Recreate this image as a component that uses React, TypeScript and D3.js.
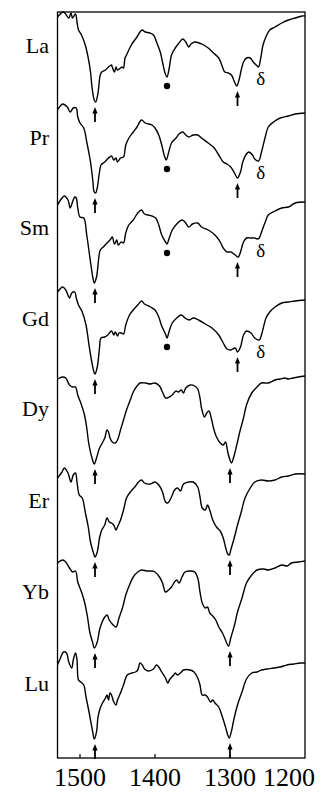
import React, { useEffect } from 'react';
import * as d3 from 'd3';

type Pt = [number, number];

// wavenumber axis (cm-1), reversed
const wavenumberTicks = [1500, 1400, 1300, 1200];
const wavenumberDomain = [1530, 1200];

const elements = ['La', 'Pr', 'Sm', 'Gd', 'Dy', 'Er', 'Yb', 'Lu'];
// vertical stacking offset of each trace (transmittance units)
const offsets = [653, 561, 471, 380, 290, 198, 107, 15];

// [wavenumber, transmittance]
const laSpectrum: Pt[] = [[1530,88],[1522,93],[1515,87],[1512,92],[1510,87],[1506,91],[1504,83],[1502,75],[1498,70],[1493,60],[1489,47],[1486,33],[1484,18],[1481,5],[1479,3],[1476,12],[1473,30],[1471,33],[1466,35],[1462,38],[1458,40],[1457,38],[1454,33],[1452,38],[1450,35],[1446,37],[1444,38],[1442,37],[1440,47],[1438,50],[1433,58],[1429,63],[1424,68],[1420,73],[1417,75],[1413,73],[1407,72],[1402,70],[1398,63],[1393,53],[1390,43],[1387,33],[1384,28],[1381,37],[1378,50],[1373,57],[1368,62],[1363,66],[1359,63],[1355,58],[1352,61],[1347,63],[1341,62],[1335,60],[1329,57],[1322,52],[1315,47],[1311,40],[1307,33],[1302,32],[1298,30],[1294,23],[1291,19],[1288,25],[1285,35],[1282,43],[1278,47],[1273,47],[1269,43],[1265,40],[1262,38],[1259,47],[1256,60],[1251,70],[1247,75],[1240,78],[1231,82],[1222,85],[1213,87],[1204,89],[1200,89]];
const prSpectrum: Pt[] = [[1530,87],[1523,93],[1517,90],[1513,85],[1509,89],[1505,89],[1503,80],[1500,74],[1495,69],[1491,55],[1486,35],[1483,17],[1481,5],[1479,4],[1477,9],[1474,25],[1472,32],[1467,35],[1462,39],[1458,41],[1455,37],[1452,39],[1450,35],[1446,39],[1442,40],[1439,52],[1434,60],[1429,65],[1424,70],[1418,77],[1413,74],[1404,72],[1400,69],[1395,62],[1391,52],[1387,40],[1385,37],[1382,44],[1378,54],[1372,59],[1368,63],[1363,65],[1359,62],[1355,60],[1349,62],[1343,62],[1338,59],[1329,54],[1321,49],[1315,42],[1309,35],[1304,33],[1299,30],[1294,24],[1290,19],[1286,25],[1283,35],[1279,42],[1275,45],[1270,42],[1267,38],[1262,36],[1258,45],[1253,60],[1249,70],[1242,75],[1233,79],[1222,81],[1213,83],[1200,84]];
const smSpectrum: Pt[] = [[1530,82],[1524,89],[1521,91],[1516,87],[1513,79],[1510,85],[1507,90],[1505,89],[1503,79],[1500,70],[1495,69],[1491,52],[1486,25],[1483,10],[1481,4],[1478,10],[1475,29],[1473,37],[1469,40],[1464,44],[1460,47],[1457,50],[1454,43],[1451,47],[1449,42],[1445,45],[1442,44],[1439,54],[1435,62],[1429,67],[1423,74],[1418,77],[1414,73],[1404,71],[1399,69],[1395,62],[1391,52],[1386,45],[1384,43],[1381,49],[1377,57],[1371,63],[1364,67],[1360,65],[1355,60],[1350,63],[1343,64],[1338,60],[1329,57],[1320,52],[1313,45],[1309,39],[1304,35],[1299,35],[1293,32],[1289,30],[1286,35],[1282,45],[1278,49],[1272,49],[1267,49],[1264,48],[1261,49],[1258,55],[1253,65],[1249,72],[1240,76],[1231,79],[1222,80],[1213,84],[1200,85]];
const gdSpectrum: Pt[] = [[1530,86],[1523,91],[1519,88],[1514,80],[1511,85],[1507,86],[1505,80],[1502,73],[1497,66],[1492,53],[1488,33],[1484,15],[1481,5],[1480,4],[1477,11],[1474,30],[1472,40],[1467,41],[1463,43],[1458,47],[1455,43],[1453,46],[1450,42],[1448,45],[1445,45],[1442,44],[1439,53],[1434,63],[1429,68],[1423,73],[1418,77],[1414,74],[1406,71],[1400,68],[1395,61],[1391,52],[1386,44],[1384,40],[1381,47],[1377,55],[1371,60],[1365,63],[1360,60],[1354,58],[1349,60],[1342,58],[1333,54],[1324,50],[1315,43],[1309,35],[1304,29],[1299,28],[1293,30],[1290,26],[1286,31],[1282,43],[1278,47],[1272,45],[1267,40],[1261,38],[1257,46],[1252,60],[1247,66],[1240,71],[1231,75],[1222,76],[1213,77],[1200,78]];
const dySpectrum: Pt[] = [[1530,89],[1523,91],[1519,90],[1514,83],[1510,81],[1506,81],[1503,73],[1498,63],[1494,53],[1491,40],[1488,23],[1484,10],[1481,4],[1478,10],[1474,20],[1471,24],[1467,30],[1464,38],[1462,36],[1460,30],[1457,26],[1453,25],[1450,28],[1446,38],[1442,48],[1438,58],[1433,68],[1429,76],[1424,82],[1420,85],[1413,85],[1406,84],[1400,85],[1394,82],[1390,76],[1386,70],[1381,71],[1377,73],[1372,77],[1369,76],[1365,78],[1362,75],[1359,80],[1353,83],[1347,82],[1343,79],[1340,70],[1338,60],[1334,51],[1331,55],[1328,57],[1325,50],[1322,40],[1318,31],[1313,25],[1309,23],[1306,26],[1303,16],[1300,8],[1298,5],[1295,11],[1291,23],[1287,36],[1282,50],[1278,63],[1271,75],[1264,81],[1258,85],[1249,85],[1240,88],[1233,89],[1227,90],[1222,89],[1216,90],[1209,91],[1200,92]];
const erSpectrum: Pt[] = [[1530,82],[1524,88],[1521,92],[1516,87],[1512,78],[1509,85],[1506,87],[1504,78],[1501,65],[1497,62],[1493,48],[1489,33],[1486,18],[1482,7],[1480,3],[1477,8],[1474,22],[1471,30],[1467,35],[1464,42],[1461,38],[1458,37],[1455,35],[1452,30],[1450,33],[1446,40],[1442,50],[1438,62],[1433,68],[1427,73],[1422,78],[1418,80],[1414,77],[1406,76],[1400,78],[1394,74],[1390,68],[1386,58],[1383,57],[1378,63],[1374,70],[1370,72],[1366,69],[1362,76],[1355,78],[1349,78],[1343,73],[1340,63],[1337,52],[1333,50],[1330,55],[1327,50],[1323,40],[1318,33],[1313,29],[1309,22],[1306,13],[1303,6],[1301,5],[1299,10],[1294,23],[1290,35],[1285,48],[1280,62],[1273,72],[1267,78],[1258,80],[1249,79],[1240,80],[1231,83],[1222,84],[1213,86],[1200,86]];
const ybSpectrum: Pt[] = [[1530,88],[1523,91],[1519,89],[1514,83],[1510,79],[1506,80],[1503,69],[1498,59],[1494,49],[1490,34],[1487,19],[1483,8],[1481,3],[1477,9],[1474,21],[1471,28],[1467,34],[1464,36],[1461,31],[1457,27],[1452,24],[1448,33],[1443,44],[1439,56],[1434,66],[1429,74],[1423,79],[1418,81],[1411,80],[1404,80],[1400,79],[1394,74],[1390,68],[1386,59],[1382,61],[1378,64],[1374,69],[1371,71],[1368,68],[1364,74],[1360,79],[1353,80],[1347,79],[1343,73],[1340,59],[1337,48],[1333,43],[1330,44],[1327,38],[1323,35],[1319,31],[1315,24],[1310,18],[1306,11],[1302,5],[1299,13],[1294,26],[1290,39],[1284,53],[1278,68],[1271,76],[1264,81],[1255,82],[1249,81],[1240,83],[1231,86],[1224,85],[1218,88],[1209,89],[1200,90]];
const luSpectrum: Pt[] = [[1530,78],[1526,85],[1522,91],[1518,90],[1515,81],[1511,75],[1509,83],[1506,90],[1504,83],[1502,63],[1499,61],[1495,58],[1492,46],[1489,35],[1486,23],[1483,11],[1481,4],[1478,11],[1476,26],[1473,35],[1470,40],[1466,45],[1464,48],[1462,43],[1460,50],[1458,48],[1455,41],[1452,38],[1450,43],[1446,50],[1442,58],[1437,68],[1431,70],[1426,71],[1423,73],[1420,80],[1417,78],[1414,74],[1409,72],[1402,74],[1398,78],[1395,76],[1391,71],[1386,65],[1383,60],[1380,64],[1375,68],[1373,70],[1370,68],[1366,70],[1362,73],[1353,73],[1348,71],[1343,65],[1340,58],[1337,48],[1333,48],[1330,46],[1326,41],[1323,43],[1320,40],[1315,36],[1311,28],[1306,16],[1303,8],[1301,5],[1298,12],[1295,23],[1290,38],[1284,51],[1278,64],[1271,70],[1264,71],[1258,73],[1251,74],[1242,75],[1233,76],[1224,78],[1215,79],[1206,80],[1200,80]];

const spectra = [laSpectrum, prSpectrum, smSpectrum, gdSpectrum, dySpectrum, erSpectrum, ybSpectrum, luSpectrum];

// band annotations
const arrowBandA = [1480, 1480, 1480, 1480, 1480, 1480, 1480, 1480];
const arrowBandB = [1290, 1290, 1290, 1290, 1300, 1300, 1300, 1300];
const nitrateBand = [1384, 1384, 1384, 1384, null, null, null, null];
const deltaBand = [1262, 1262, 1262, 1262, null, null, null, null];

const W = 328;
const H = 794;
const serif = '"Liberation Serif", "Times New Roman", Times, serif';

const minNear = (data: Pt[], wn: number, hw = 5) =>
  d3.min(data.filter(d => Math.abs(d[0] - wn) <= hw), d => d[1]) ?? 0;

const Arrow = ({ x, tip }: { x: number; tip: number }) => (
  <g>
    <line x1={x} x2={x} y1={tip + 4} y2={tip + 15} stroke="#000" strokeWidth={1.8} />
    <path d={`M${x},${tip} L${x - 2.6},${tip + 6.5} L${x + 2.6},${tip + 6.5} Z`} fill="#000" />
  </g>
);

export default function App() {
  useEffect(() => {
    document.body.style.margin = '0';
  }, []);

  const x = d3.scaleLinear().domain(wavenumberDomain).range([57.5, 305]);
  const y = d3.scaleLinear().domain([0, 746]).range([758, 12]);

  return (
    <svg width={W} height={H} style={{ display: 'block', background: '#fff' }}>
      {/* frame */}
      <rect x={x(1530)} y={y(746)} width={x(1200) - x(1530)} height={y(0) - y(746)}
        fill="none" stroke="#000" strokeWidth={1.3} />

      {/* bottom ticks, pointing inward */}
      {wavenumberTicks.slice(0, -1).map(t => (
        <line key={t} x1={x(t)} x2={x(t)} y1={y(0)} y2={y(0) - 4} stroke="#000" strokeWidth={1.2} />
      ))}
      {wavenumberTicks.map((t, i) => {
        const last = i === wavenumberTicks.length - 1;
        return (
          <text key={t} x={last ? x(t) + 10 : x(t)} y={786} textAnchor={last ? 'end' : 'middle'}
            fontFamily={serif} fontSize={26} fill="#000">{t}</text>
        );
      })}

      {spectra.map((data, i) => {
        const off = offsets[i];
        const line = d3.line<Pt>()
          .x(d => x(d[0]))
          .y(d => y(off + d[1]))
          .curve(d3.curveCatmullRom.alpha(0.5));
        const nb = nitrateBand[i];
        const db = deltaBand[i];
        return (
          <g key={elements[i]}>
            <path d={line(data) ?? ''} fill="none" stroke="#000" strokeWidth={1.4} strokeLinejoin="round" />
            <text x={49} y={y(off + 60)} dy="0.35em" textAnchor="end" fontFamily={serif} fontSize={22}>
              {elements[i]}
            </text>
            <Arrow x={x(arrowBandA[i])} tip={y(off + minNear(data, arrowBandA[i])) + 5} />
            <Arrow x={x(arrowBandB[i])} tip={y(off + minNear(data, arrowBandB[i])) + 5} />
            {nb !== null && (
              <circle cx={x(nb)} cy={y(off + minNear(data, nb)) + 9} r={3.2} fill="#000" />
            )}
            {db !== null && (
              <text x={x(db - 3)} y={y(off + minNear(data, db, 4)) + 18} textAnchor="middle"
                fontFamily={serif} fontSize={19}>δ</text>
            )}
          </g>
        );
      })}
    </svg>
  );
}
